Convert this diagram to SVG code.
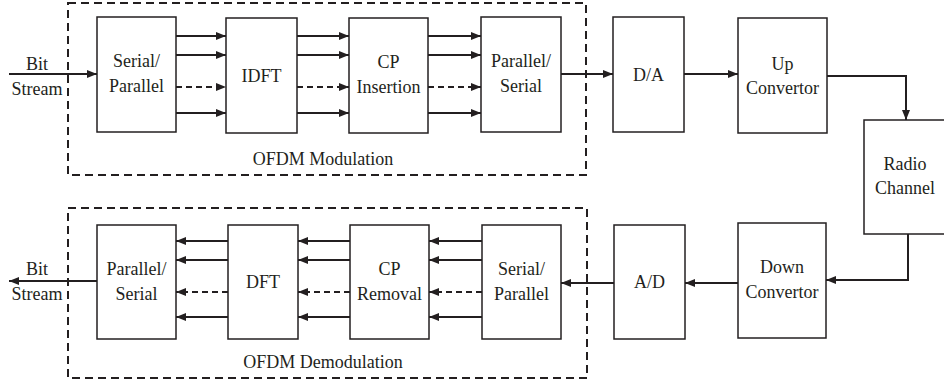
<svg xmlns="http://www.w3.org/2000/svg" width="944" height="384" viewBox="0 0 944 384">
<style>
.box{fill:#fff;stroke:#231f20;stroke-width:1.5}
.grp{fill:none;stroke:#231f20;stroke-width:2;stroke-dasharray:8,5}
.c{fill:none;stroke:#231f20;stroke-width:2}
.d{stroke-dasharray:6,4}
text{font-family:"Liberation Serif",serif;font-size:18px;fill:#231f20;text-anchor:middle}
</style>
<defs>
<marker id="ah" markerWidth="10" markerHeight="8" refX="10" refY="4" orient="auto" markerUnits="userSpaceOnUse">
<path d="M0,0 L10,4 L0,8 Z" fill="#231f20"/>
</marker>
</defs>
<g font-family="Liberation Serif, serif">
<g id="mod-group"><rect class="grp" x="68" y="3" width="518" height="172"/><text x="323" y="165">OFDM Modulation</text></g>
<g id="demod-group"><rect class="grp" x="68" y="208" width="519" height="170"/><text x="323" y="368">OFDM Demodulation</text></g>
<g id="sp1"><rect class="box" x="97" y="17" width="79" height="115"/><text x="136.5" y="67">Serial/</text><text x="136.5" y="92">Parallel</text></g>
<g id="idft"><rect class="box" x="226" y="18" width="71" height="115"/><text x="261.5" y="82">IDFT</text></g>
<g id="cpins"><rect class="box" x="349" y="18" width="79" height="115"/><text x="388.5" y="68">CP</text><text x="388.5" y="93">Insertion</text></g>
<g id="ps1"><rect class="box" x="481" y="17" width="80" height="115"/><text x="521" y="67">Parallel/</text><text x="521" y="92">Serial</text></g>
<g id="da"><rect class="box" x="613" y="17" width="71" height="115"/><text x="648.5" y="81">D/A</text></g>
<g id="up"><rect class="box" x="738" y="18" width="89" height="115"/><text x="782.5" y="70">Up</text><text x="782.5" y="94">Convertor</text></g>
<g id="radio"><rect class="box" x="864" y="120" width="82" height="114"/><text x="905" y="170">Radio</text><text x="905" y="194">Channel</text></g>
<g id="down"><rect class="box" x="738" y="223" width="88" height="115"/><text x="782" y="273">Down</text><text x="782" y="298">Convertor</text></g>
<g id="ad"><rect class="box" x="614" y="225" width="71" height="114"/><text x="649.5" y="288">A/D</text></g>
<g id="sp2"><rect class="box" x="482" y="225" width="79" height="114"/><text x="521.5" y="275">Serial/</text><text x="521.5" y="300">Parallel</text></g>
<g id="cprem"><rect class="box" x="350" y="225" width="79" height="114"/><text x="389.5" y="275">CP</text><text x="389.5" y="300">Removal</text></g>
<g id="dft"><rect class="box" x="228" y="225" width="70" height="114"/><text x="263" y="288">DFT</text></g>
<g id="ps2"><rect class="box" x="97" y="225" width="79" height="114"/><text x="136.5" y="275">Parallel/</text><text x="136.5" y="300">Serial</text></g>
<g id="labels"><text x="37" y="70">Bit</text><text x="37" y="95">Stream</text><text x="37" y="275">Bit</text><text x="37" y="300">Stream</text></g>
</g>
<g id="connectors">
<line class="c" x1="9" y1="74" x2="97" y2="74" stroke-width="3" marker-end="url(#ah)"/>
<line class="c" x1="176" y1="36" x2="226" y2="36" marker-end="url(#ah)"/>
<line class="c" x1="176" y1="55" x2="226" y2="55" marker-end="url(#ah)"/>
<line class="c d" x1="176" y1="87" x2="226" y2="87" marker-end="url(#ah)"/>
<line class="c" x1="176" y1="113" x2="226" y2="113" marker-end="url(#ah)"/>
<line class="c" x1="297" y1="36" x2="349" y2="36" marker-end="url(#ah)"/>
<line class="c" x1="297" y1="55" x2="349" y2="55" marker-end="url(#ah)"/>
<line class="c d" x1="297" y1="87" x2="349" y2="87" marker-end="url(#ah)"/>
<line class="c" x1="297" y1="113" x2="349" y2="113" marker-end="url(#ah)"/>
<line class="c" x1="428" y1="36" x2="481" y2="36" marker-end="url(#ah)"/>
<line class="c" x1="428" y1="55" x2="481" y2="55" marker-end="url(#ah)"/>
<line class="c d" x1="428" y1="87" x2="481" y2="87" marker-end="url(#ah)"/>
<line class="c" x1="428" y1="113" x2="481" y2="113" marker-end="url(#ah)"/>
<line class="c" x1="561" y1="74" x2="613" y2="74" marker-end="url(#ah)"/>
<line class="c" x1="684" y1="74" x2="738" y2="74" marker-end="url(#ah)"/>
<polyline class="c" points="827,76 906,76 906,120" marker-end="url(#ah)"/>
<polyline class="c" points="908,234 908,280 826,280" marker-end="url(#ah)"/>
<line class="c" x1="738" y1="283" x2="685" y2="283" marker-end="url(#ah)"/>
<line class="c" x1="614" y1="283" x2="561" y2="283" marker-end="url(#ah)"/>
<line class="c" x1="482" y1="241" x2="429" y2="241" marker-end="url(#ah)"/>
<line class="c" x1="482" y1="260" x2="429" y2="260" marker-end="url(#ah)"/>
<line class="c d" x1="482" y1="292" x2="429" y2="292" marker-end="url(#ah)"/>
<line class="c" x1="482" y1="317" x2="429" y2="317" marker-end="url(#ah)"/>
<line class="c" x1="350" y1="241" x2="298" y2="241" marker-end="url(#ah)"/>
<line class="c" x1="350" y1="260" x2="298" y2="260" marker-end="url(#ah)"/>
<line class="c d" x1="350" y1="292" x2="298" y2="292" marker-end="url(#ah)"/>
<line class="c" x1="350" y1="317" x2="298" y2="317" marker-end="url(#ah)"/>
<line class="c" x1="228" y1="241" x2="176" y2="241" marker-end="url(#ah)"/>
<line class="c" x1="228" y1="260" x2="176" y2="260" marker-end="url(#ah)"/>
<line class="c d" x1="228" y1="292" x2="176" y2="292" marker-end="url(#ah)"/>
<line class="c" x1="228" y1="317" x2="176" y2="317" marker-end="url(#ah)"/>
<line class="c" x1="97" y1="281" x2="9" y2="281" marker-end="url(#ah)"/>
</g>
</svg>
